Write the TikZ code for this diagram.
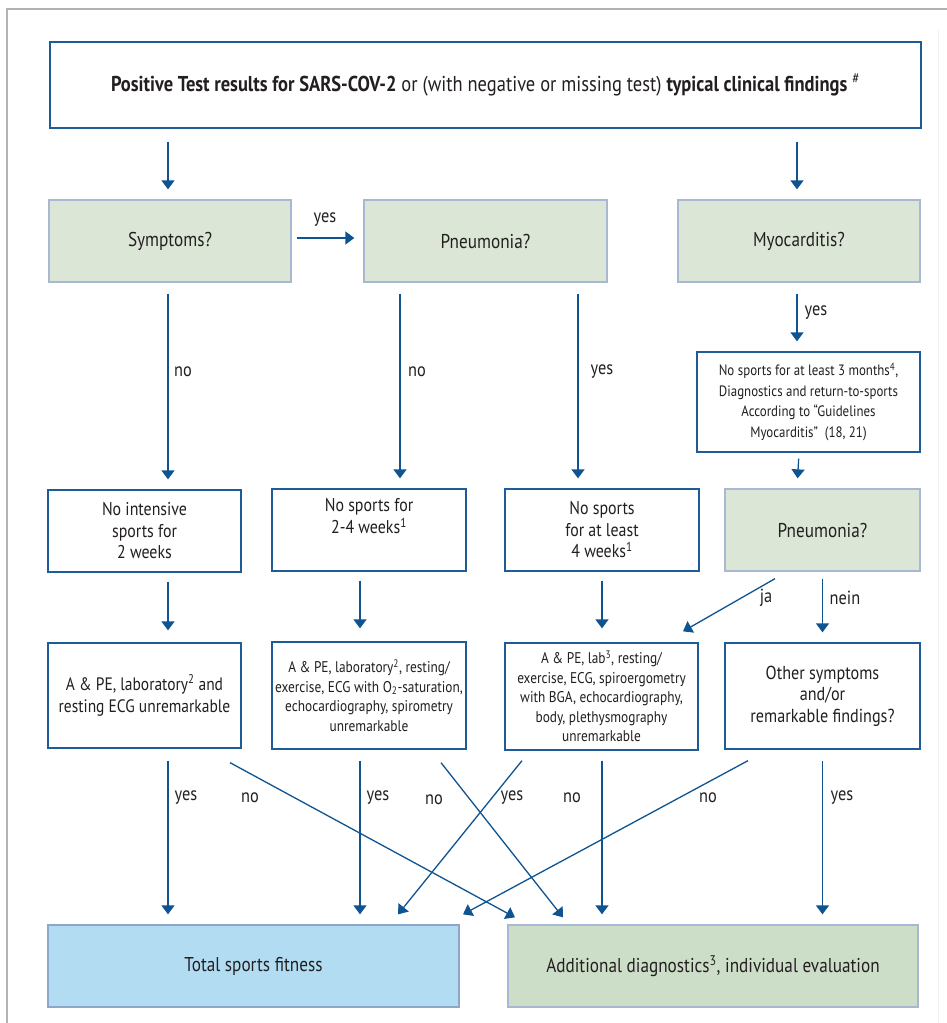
\documentclass[tikz,border=0pt]{standalone}
\usepackage{fontspec}
\setmainfont{PT Sans}[FakeStretch=0.86]
\usetikzlibrary{arrows.meta}
\definecolor{arrowblue}{HTML}{0F5391}
\definecolor{boxblue}{HTML}{1D5C99}
\definecolor{greenfill}{HTML}{DBE6D6}
\definecolor{greenedge}{HTML}{A8B8D2}
\definecolor{skyfill}{HTML}{B1DCF2}
\definecolor{skyedge}{HTML}{8FA6CB}
\definecolor{mossfill}{HTML}{CDDEC8}
\definecolor{textgray}{HTML}{231F20}
\begin{document}
\begin{tikzpicture}[x=1pt, y=-1pt, font=\fontsize{19}{21.5}\selectfont, text=textgray,
    whitebox/.style={draw=boxblue, line width=1.3pt, fill=white, align=center, inner sep=0pt},
    greenbox/.style={draw=greenedge, line width=1.3pt, fill=greenfill, align=center, inner sep=0pt, font=\fontsize{20}{22}\selectfont},
    smalltext/.style={font=\fontsize{15.5}{19.5}\selectfont},
    arr/.style={draw=arrowblue, line width=1.3pt, -{Triangle[width=13pt, length=9pt]}},
    lbl/.style={inner sep=0pt}]
    \useasboundingbox (0,0) rectangle (947,1023);
    \draw[draw=black!30, line width=1.6pt] (7,1023) -- (7,9) -- (947,9);
    \draw[draw=black!5, line width=1pt] (938,30) -- (938,1023);

    \node[whitebox, minimum width=871pt, minimum height=86pt, font=\fontsize{21.5}{24}\selectfont] (test) at (485.5,85)
        {\textbf{Positive Test results for SARS-COV-2} or (with negative or missing test) \textbf{typical clinical findings} \textsuperscript{\#}};

    \node[greenbox, minimum width=242pt, minimum height=82pt] (symp) at (170,241) {Symptoms?};
    \node[greenbox, minimum width=243pt, minimum height=82pt] (pneu) at (485.5,241) {Pneumonia?};
    \node[greenbox, minimum width=242pt, minimum height=82pt] (myo) at (799,241) {Myocarditis?};

    \node[whitebox, minimum width=223pt, minimum height=100pt, font=\fontsize{15}{20.5}\selectfont] (myorest) at (808.5,402)
        {No sports for at least 3 months\textsuperscript{4},\\Diagnostics and return-to-sports\\According to “Guidelines\\Myocarditis”~ (18, 21)};

    \node[whitebox, minimum width=193pt, minimum height=82pt, font=\fontsize{18.5}{21.5}\selectfont] (nointense) at (144.5,531) {No intensive\\sports for\\2 weeks};
    \node[whitebox, minimum width=194pt, minimum height=82pt, font=\fontsize{18.5}{21.5}\selectfont] (nosportsA) at (369,530) {No sports for\\2-4 weeks\textsuperscript{1}\\\strut};
    \node[whitebox, minimum width=194pt, minimum height=82pt, font=\fontsize{18.5}{21.5}\selectfont] (nosportsB) at (602,530) {No sports\\for at least\\4 weeks\textsuperscript{1}};
    \node[greenbox, minimum width=195pt, minimum height=82pt] (pneutwo) at (822.5,530) {Pneumonia?};

    \node[whitebox, minimum width=193pt, minimum height=105pt, font=\fontsize{18}{22}\selectfont] (exama) at (144.5,695.5)
        {A \& PE, laboratory\textsuperscript{2} and\\resting ECG unremarkable};
    \node[whitebox, smalltext, minimum width=194pt, minimum height=107pt] (examb) at (369,695.5)
        {A \& PE, laboratory\textsuperscript{2}, resting/\\exercise, ECG with O\textsubscript{2}-saturation,\\echocardiography, spirometry\\unremarkable};
    \node[whitebox, smalltext, minimum width=193pt, minimum height=107pt] (examc) at (601.5,696.5)
        {A \& PE, lab\textsuperscript{3}, resting/\\exercise, ECG, spiroergometry\\with BGA, echocardiography,\\body, plethysmography\\unremarkable};
    \node[whitebox, minimum width=195pt, minimum height=106pt, font=\fontsize{18.8}{21.7}\selectfont] (other) at (822.5,696)
        {Other symptoms\\and/or\\remarkable findings?};

    \node[draw=skyedge, line width=1.3pt, fill=skyfill, minimum width=411pt, minimum height=82pt, font=\fontsize{20}{22}\selectfont] (fit) at (253.5,966) {Total sports fitness};
    \node[draw=greenedge, line width=1.3pt, fill=mossfill, minimum width=410pt, minimum height=82pt, font=\fontsize{20}{22}\selectfont] (more) at (713,966)
        {Additional diagnostics\textsuperscript{3}, individual evaluation};

    \draw[arr, shorten <=13pt, shorten >=10pt] ([xshift=-2pt]test.south -| symp.north) -- ([xshift=-2pt]symp.north);
    \draw[arr, shorten <=13pt, shorten >=10pt] ([xshift=-2pt]test.south -| myo.north) -- ([xshift=-2pt]myo.north);
    \draw[arr, shorten <=5pt, shorten >=9pt] ([yshift=3pt]symp.east) -- ([yshift=3pt]symp.east -| pneu.west);
    \node[lbl] (yesa) at (325,220) {yes};

    \draw[arr, shorten <=11pt, shorten >=10pt] ([xshift=-2pt]symp.south) -- ([xshift=-2pt]symp.south |- nointense.north);
    \node[lbl] (noa) at (183,372) {no};
    \draw[arr, shorten <=11pt, shorten >=10pt] ([xshift=-85.5pt]pneu.south) -- ([xshift=-85.5pt]pneu.south |- nosportsA.north);
    \node[lbl] (nob) at (417,372) {no};
    \draw[arr, shorten <=11pt, shorten >=10pt] ([xshift=92.5pt]pneu.south) -- ([xshift=92.5pt]pneu.south |- nosportsB.north);
    \node[lbl] (yesb) at (602,372) {yes};
    \draw[arr, shorten <=11pt, shorten >=10pt] ([xshift=-2pt]myo.south) -- ([xshift=-2pt]myo.south |- myorest.north);
    \node[lbl] (yesc) at (816,313) {yes};
    \draw[arr, shorten <=6pt, shorten >=10pt] (myorest.south -| myo.south) -- ([xshift=-2pt]myo.south |- pneutwo.north);

    \draw[arr, shorten <=9pt, shorten >=12pt] ([xshift=23.5pt]nointense.south) -- ([xshift=23.5pt]nointense.south |- exama.north);
    \draw[arr, shorten <=9pt, shorten >=13pt] ([xshift=-9pt]nosportsA.south) -- ([xshift=-9pt]nosportsA.south |- examb.north);
    \draw[arr, shorten <=9pt, shorten >=14pt] (nosportsB.south) -- (nosportsB.south |- examc.north);
    \draw[arr] ([xshift=-47.5pt, yshift=-7pt]pneutwo.south) -- ([xshift=81.5pt, yshift=11pt]examc.north);
    \node[lbl] (ja) at (766,598) {ja};
    \draw[arr, shorten <=7pt, shorten >=10pt] (pneutwo.south) -- (pneutwo.south |- other.north);
    \node[lbl] (nein) at (845,598) {nein};

    \draw[arr, shorten <=12pt, shorten >=10pt] ([xshift=23.5pt]exama.south) -- ([xshift=23.5pt]exama.south |- fit.north);
    \node[lbl] (yesd) at (186,798) {yes};
    \draw[arr] ([xshift=85.5pt, yshift=-14pt]exama.south) -- ([xshift=-198pt, yshift=7pt]more.north);
    \node[lbl] (noc) at (250,798) {no};
    \draw[arr, shorten <=11pt, shorten >=10pt] ([xshift=-9pt]examb.south) -- ([xshift=-9pt]examb.south |- fit.north);
    \node[lbl] (yese) at (378,798) {yes};
    \draw[arr] ([xshift=72pt, yshift=-13pt]examb.south) -- ([xshift=-150pt, yshift=7pt]more.north);
    \node[lbl] (nod) at (434,800) {no};
    \draw[arr] ([xshift=-79.5pt, yshift=-10pt]examc.south) -- ([xshift=144.5pt, yshift=10pt]fit.north);
    \node[lbl] (yesf) at (512,798) {yes};
    \draw[arr, shorten <=10pt, shorten >=10pt] ([xshift=0.5pt]examc.south) -- ([xshift=0.5pt]examc.south |- more.north);
    \node[lbl] (noe) at (572,798) {no};
    \draw[arr] ([xshift=-74.5pt, yshift=-11pt]other.south) -- ([xshift=209.5pt, yshift=10pt]fit.north);
    \node[lbl] (nof) at (708,798) {no};
    \draw[arr, shorten <=11pt, shorten >=10pt] (other.south) -- (other.south |- more.north);
    \node[lbl] (yesg) at (842,798) {yes};
\end{tikzpicture}
\end{document}
